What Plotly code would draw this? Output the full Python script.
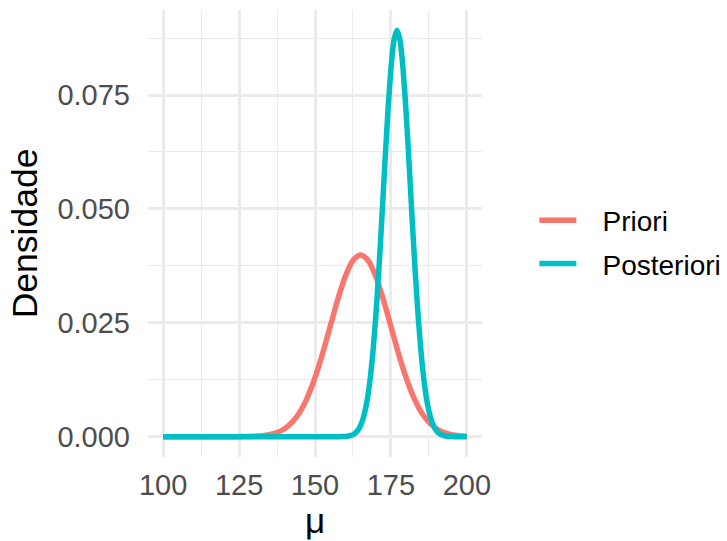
import plotly.graph_objects as go

# Priori density
priori_x = [100, 102.5, 105, 107.5, 110, 112.5, 115, 117.5, 120, 122.5, 125, 127.5, 130, 132.5,
            135, 137.5, 140, 142.5, 145, 147.5, 150, 152.5, 155, 157.5, 160, 162.5, 165,
            167.5, 170, 172.5, 175, 177.5, 180, 182.5, 185, 187.5, 190, 192.5, 195, 197.5, 200]
priori_y = [0.0, 0.0, 0.0, 0.0, 0.00000001, 0.00000004, 0.00000015, 0.0000005, 0.0000016, 0.0000048,
            0.0000134, 0.000035, 0.000087, 0.000203, 0.000443, 0.000910, 0.001753, 0.003174,
            0.005399, 0.008628, 0.012952, 0.018265, 0.024197, 0.030113, 0.035207, 0.038667,
            0.039894, 0.038667, 0.035207, 0.030113, 0.024197, 0.018265, 0.012952, 0.008628,
            0.005399, 0.003174, 0.001753, 0.000910, 0.000443, 0.000203, 0.000087]

# Posteriori density
post_x = [100, 125, 150, 155, 158, 159, 160, 161, 162, 163, 164, 165, 166, 167, 168, 169, 170,
          171, 172, 173, 174, 175, 176, 177, 178, 179, 180, 181, 182, 183, 184, 185, 186, 187,
          188, 189, 190, 191, 192, 193, 194, 195, 196, 198, 200]
post_y = [0.0, 0.0, 0.0, 0.0000005, 0.0000107, 0.0000271, 0.0000649, 0.000148, 0.000322,
          0.000664, 0.001305, 0.002437, 0.004331, 0.007322, 0.011774, 0.018011, 0.026205,
          0.036269, 0.047749, 0.059797, 0.071233, 0.080717, 0.087003, 0.089206, 0.087003,
          0.080717, 0.071233, 0.059797, 0.047749, 0.036269, 0.026205, 0.018011, 0.011774,
          0.007322, 0.004331, 0.002437, 0.001305, 0.000664, 0.000322, 0.000148, 0.0000649,
          0.0000271, 0.0000107, 0.0000015, 0.0]

series_names = ["Priori", "Posteriori"]
x_ticks = [100, 125, 150, 175, 200]
y_ticks = [0.000, 0.025, 0.050, 0.075]
y_tick_labels = ["0.000", "0.025", "0.050", "0.075"]

FONT = "Liberation Sans, Arial, Helvetica, sans-serif"
GRID = "#EBEBEB"
PAD = "\u00a0\u00a0\u2009"

fig = go.Figure()
fig.add_trace(go.Scatter(x=priori_x, y=priori_y, mode="lines", name=PAD + series_names[0],
                         line=dict(color="#F8766D", width=5.5, shape="spline", smoothing=0.8),
                         legendgroup="a"))
fig.add_trace(go.Scatter(x=post_x, y=post_y, mode="lines", name=PAD + series_names[1],
                         line=dict(color="#00BFC4", width=5.5, shape="spline", smoothing=0.6),
                         legendgroup="b"))

fig.update_layout(
    width=727, height=541,
    margin=dict(l=148, r=245, t=10, b=84),
    paper_bgcolor="white", plot_bgcolor="white",
    font=dict(family=FONT, color="#4D4D4D", size=29),
    showlegend=True,
    legend=dict(xref="container", yref="container", x=0.735, xanchor="left",
                y=0.5527, yanchor="middle",
                font=dict(size=28, color="black", family=FONT),
                itemwidth=37, tracegroupgap=4, bgcolor="rgba(0,0,0,0)"),
    xaxis=dict(range=[95, 205], tickvals=x_ticks, ticktext=[str(v) for v in x_ticks],
               showgrid=True, gridcolor=GRID, gridwidth=2.6, zeroline=False, showline=False,
               ticks="", ticklabelstandoff=8, automargin=False,
               minor=dict(dtick=12.5, tick0=100, showgrid=True, gridcolor=GRID, gridwidth=1.3),
               title=dict(text="μ", font=dict(size=35, color="black", family=FONT), standoff=6)),
    yaxis=dict(range=[-0.00446, 0.09366], tickvals=y_ticks, ticktext=y_tick_labels,
               showgrid=True, gridcolor=GRID, gridwidth=2.6, zeroline=False, showline=False,
               ticks="", ticklabelstandoff=17, automargin=False,
               minor=dict(dtick=0.0125, tick0=0, showgrid=True, gridcolor=GRID, gridwidth=1.3),
               title=dict(text="Densidade", font=dict(size=35.5, color="black", family=FONT), standoff=8)),
)

fig.write_html("out.html", config={"displayModeBar": False},
               post_script="document.body.style.margin='0';document.body.style.overflow='hidden';")
